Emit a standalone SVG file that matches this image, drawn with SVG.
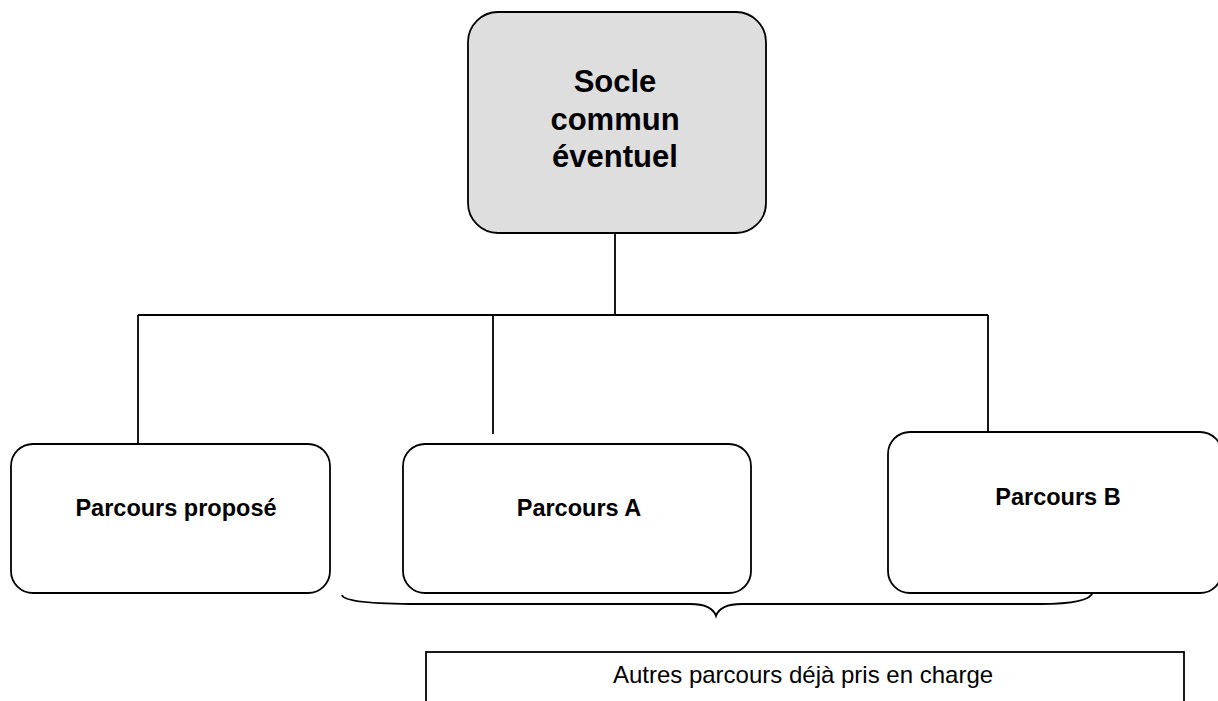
<svg xmlns="http://www.w3.org/2000/svg" width="1218" height="701" viewBox="0 0 1218 701">
<style>
.box{fill:#ffffff;stroke:#000;stroke-width:1.8}
.top{fill:#dedede;stroke:#000;stroke-width:1.8}
.ln{fill:none;stroke:#000;stroke-width:1.8}
.t1{font-family:"Liberation Sans",Arial,sans-serif;font-weight:bold;font-size:31px;text-anchor:middle}
.t2{font-family:"Liberation Sans",Arial,sans-serif;font-weight:bold;font-size:23.5px;text-anchor:middle}
.t3{font-family:"Liberation Sans",Arial,sans-serif;font-size:24px;text-anchor:middle}
</style>
<rect width="1218" height="701" fill="#fff"/>
<g id="connectors">
<path class="ln" d="M615 233 V315 M138 315 H988 M138 315 V443 M493 315 V434 M988 315 V432"/>
<path class="ln" d="M342 595 Q344 604 420 604 H690 Q712 604 716 616 Q720 604 742 604 H1040 Q1090 604 1093 592"/>
</g>
<g id="socle">
<rect class="top" x="468" y="12" width="298" height="221" rx="30"/>
<text class="t1" x="615" y="92">Socle</text>
<text class="t1" x="615" y="130">commun</text>
<text class="t1" x="615" y="167">éventuel</text>
</g>
<g id="parcours-propose">
<rect class="box" x="11" y="444" width="319" height="149" rx="22"/>
<text class="t2" x="176" y="516">Parcours proposé</text>
</g>
<g id="parcours-a">
<rect class="box" x="403" y="444" width="348" height="149" rx="22"/>
<text class="t2" x="579" y="516">Parcours A</text>
</g>
<g id="parcours-b">
<rect class="box" x="888" y="432" width="334" height="161" rx="22"/>
<text class="t2" x="1058" y="505">Parcours B</text>
</g>
<g id="autres">
<rect class="box" x="426" y="652" width="758" height="70"/>
<text class="t3" x="803" y="683">Autres parcours déjà pris en charge</text>
</g>
</svg>
